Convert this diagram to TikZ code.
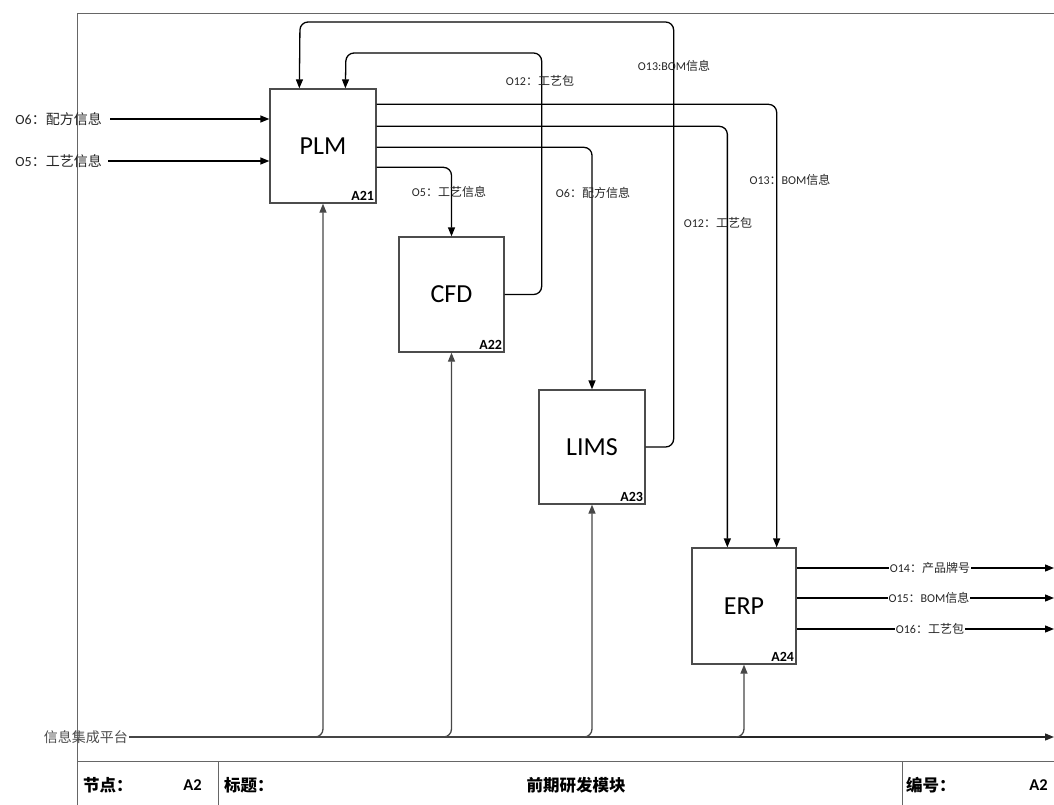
\documentclass[tikz,border=0pt]{standalone}
\usepackage{fontspec}
\setmainfont{Carlito}
\newfontfamily\cjk{Noto Sans CJK SC}
\usetikzlibrary{arrows.meta,calc}
\newcommand\zh[1]{{\cjk #1}}
\tikzset{
  fbox/.style={draw=black!70, line width=1.3pt, fill=white, minimum width=106pt, minimum height=114pt, inner sep=0pt, font=\fontsize{26}{28}\selectfont},
  boxid/.style={font=\bfseries\fontsize{14}{15}\selectfont, anchor=south east, inner sep=2.5pt},
  flow/.style={line width=1.3pt, rounded corners=8pt, -{Triangle[length=9pt,width=7pt]}},
  flowb/.style={flow, draw=black!72, -{Triangle[length=9pt,width=7pt]}},
  lbl/.style={font=\fontsize{12}{13}\selectfont, inner sep=1pt, text=black!85},
  lblw/.style={lbl, fill=white},
  inlbl/.style={lbl, font=\fontsize{14}{15}\selectfont},
  cell/.style={font=\bfseries\fontsize{16.5}{18}\selectfont, inner sep=0pt},
}
\begin{document}
\begin{tikzpicture}[x=1pt,y=-1pt]
\useasboundingbox (0,0) rectangle (1054,805);
% frame
\draw[black!60, line width=0.8pt] (1054,13) -- (77,13) -- (77,805);
\draw[black!60, line width=1pt] (77,761) -- (1054,761);
\draw[black!60, line width=1pt] (218,761) -- (218,805);
\draw[black!60, line width=1pt] (902,761) -- (902,805);
\node[cell, anchor=west] (c1) at (83,785) {\cjk\bfseries 节点：};
\node[cell, anchor=east] (c2) at (202,785) {A2};
\node[cell, anchor=west] (c3) at (224,785) {\cjk\bfseries 标题：};
\node[cell] (c4) at (576,785) {\cjk\bfseries 前期研发模块};
\node[cell, anchor=west] (c5) at (906,785) {\cjk\bfseries 编号：};
\node[cell, anchor=east] (c6) at (1048,785) {A2};

% boxes
\node[fbox] (plm) at (323,146) {PLM};
\node[boxid] at (plm.south east) {A21};
\node[fbox, minimum width=105pt, minimum height=115pt] (cfd) at (451.5,294.5) {CFD};
\node[boxid] at (cfd.south east) {A22};
\node[fbox] (lims) at (592,447) {LIMS};
\node[boxid] at (lims.south east) {A23};
\node[fbox, minimum width=104pt, minimum height=116pt] (erp) at (744,606) {ERP};
\node[boxid] at (erp.south east) {A24};

% inputs
\node[inlbl, anchor=east] (i6) at (103,119) {O6\zh{：配方信息}};
\node[inlbl, anchor=east] (i5) at (103,161) {O5\zh{：工艺信息}};
\draw[flow] ($(i6.east)+(7,0)$) -- (i6.east -| plm.west);
\draw[flow] ($(i5.east)+(5,0)$) -- (i5.east -| plm.west);

% PLM outputs
\coordinate (p1) at ($(plm.north east)+(0,16)$);
\coordinate (p2) at ($(plm.north east)+(0,38)$);
\coordinate (p3) at ($(plm.north east)+(0,59)$);
\coordinate (p4) at ($(plm.north east)+(0,79)$);
\coordinate (e1) at ($(erp.north east)+(-20,0)$);
\coordinate (e2) at ($(erp.north west)+(36,0)$);
\draw[flow] (p1) -| (e1);
\draw[flow] (p2) -| (e2);
\draw[flow] (p3) -| (lims.north);
\draw[flow] (p4) -| (cfd.north);
\node[lbl] (l13b) at (790,180) {O13\zh{：}BOM\zh{信息}};
\node[lbl] (l12b) at (718,223) {O12\zh{：工艺包}};
\node[lbl] (l6b) at (593,193) {O6\zh{：配方信息}};
\node[lbl] (l5b) at (449,192) {O5\zh{：工艺信息}};

% feedbacks
\coordinate (plmA) at ($(plm.north west)+(30,0)$);
\coordinate (plmB) at ($(plm.north west)+(76,0)$);
\draw[flow] (cfd.east) -- ++(37,0) |- (346,53) -- (plmB);
\draw[flow] (lims.east) -- ++(28,0) |- (300,22) -- (plmA);
\node[lbl] (l12t) at (540,81) {O12\zh{：工艺包}};
\node[lbl] (l13t) at (674,66) {O13:BOM\zh{信息}};

% ERP outputs
\coordinate (o1) at (1054,568);
\coordinate (o2) at (1054,598);
\coordinate (o3) at (1054,629);
\draw[flow] (erp.east |- o1) -- (o1);
\draw[flow] (erp.east |- o2) -- (o2);
\draw[flow] (erp.east |- o3) -- (o3);
\node[lblw] (l14) at (930,568) {O14\zh{：产品牌号}};
\node[lblw] (l15) at (929,598) {O15\zh{：}BOM\zh{信息}};
\node[lblw] (l16) at (930,629) {O16\zh{：工艺包}};

% platform
\node[lbl, font=\fontsize{14}{15}\selectfont, anchor=east, text=black!70] (plat) at (129,737) {\zh{信息集成平台}};
\coordinate (pend) at (1054,737);
\draw[flow, draw=black!85] (plat.east) -- (pend);
\draw[flowb] (plat.east) -| (plm.south);
\draw[flowb] (plat.east) -| (cfd.south);
\draw[flowb] (plat.east) -| (lims.south);
\draw[flowb] (plat.east) -| (erp.south);
\end{tikzpicture}
\end{document}
